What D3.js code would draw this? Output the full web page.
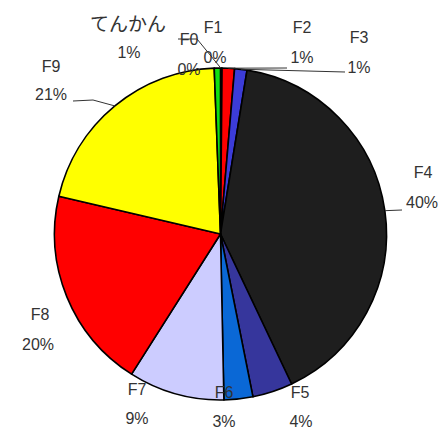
<!DOCTYPE html>
<html>
<head>
<meta charset="utf-8">
<script src="https://cdn.jsdelivr.net/npm/d3@7"></script>
<style>
  html, body { margin: 0; padding: 0; background: #fff; }
  svg { display: block; }
</style>
</head>
<body>
<svg id="chart" width="440" height="429"></svg>
<script>
// Share of cases by diagnosis group (percent)
const categories = ["F0", "F1", "F2", "F3", "F4", "F5", "F6", "F7", "F8", "F9", "てんかん"];
const values = [0.05, 0.1, 1.2, 1.2, 40.3, 3.9, 2.8, 9.3, 19.6, 20.7, 0.6];
const sliceColors = ["#202020", "#202020", "#ff0000", "#3c3cd8", "#1e1e1e", "#36369c", "#0a68d6", "#ccccff", "#ff0000", "#ffff00", "#12e012"];

// Label placement: centre of the name line / percent line, and leader bends
const labelLayout = {
  "F0":     { name: [189, 45],  pct: [189, 75],  leader: [[178, 39], [197, 39]] },
  "F1":     { name: [213, 33],  pct: [215, 63],  leader: null },
  "F2":     { name: [302, 33],  pct: [302, 63],  leader: [[287, 68]] },
  "F3":     { name: [359, 43],  pct: [359, 73],  leader: [[345, 72]] },
  "F4":     { name: [423, 178], pct: [422, 208], leader: [[402, 210]] },
  "F5":     { name: [300, 398], pct: [301, 427], leader: null },
  "F6":     { name: [224, 398], pct: [224, 427], leader: null },
  "F7":     { name: [137, 395], pct: [137, 424], leader: null },
  "F8":     { name: [40, 320],  pct: [38, 350],  leader: null },
  "F9":     { name: [51, 72],   pct: [51, 100],  leader: [[73, 101], [93, 100]] },
  "てんかん": { name: [128, 31],  pct: [129, 58],  leader: null, big: true }
};

const cx = 220.5, cy = 234, radius = 166;
const svg = d3.select("#chart");

const data = categories.map((c, i) => ({ name: c, value: values[i], color: sliceColors[i] }));
const total = d3.sum(values);

const pie = d3.pie().sort(null).value(d => d.value).startAngle(0).endAngle(2 * Math.PI);
const arc = d3.arc().innerRadius(0).outerRadius(radius);
const arcs = pie(data);

const g = svg.append("g").attr("transform", `translate(${cx},${cy})`);

g.selectAll("path.slice")
  .data(arcs)
  .join("path")
  .attr("class", "slice")
  .attr("d", arc)
  .attr("fill", d => d.data.color)
  .attr("stroke", "#000")
  .attr("stroke-width", 1.6)
  .attr("stroke-linejoin", "round");

// Leader lines from label to the slice's outer edge
const edgePoint = d => {
  const a = (d.startAngle + d.endAngle) / 2;
  return [cx + radius * Math.sin(a), cy - radius * Math.cos(a)];
};
const line = d3.line();
svg.selectAll("path.leader")
  .data(arcs.filter(d => labelLayout[d.data.name].leader))
  .join("path")
  .attr("class", "leader")
  .attr("d", d => line(labelLayout[d.data.name].leader.concat([edgePoint(d)])))
  .attr("fill", "none")
  .attr("stroke", "#333")
  .attr("stroke-width", 1);

const fmt = v => Math.round(v / total * 100) + "%";
const labels = svg.selectAll("g.lbl").data(arcs).join("g").attr("class", "lbl");

labels.append("text")
  .attr("x", d => labelLayout[d.data.name].name[0])
  .attr("y", d => labelLayout[d.data.name].name[1])
  .attr("text-anchor", "middle")
  .attr("fill", "#333")
  .style("font-family", d => labelLayout[d.data.name].big ? "'Noto Sans CJK JP', sans-serif" : "'Liberation Sans', Arial, sans-serif")
  .style("font-size", d => labelLayout[d.data.name].big ? "19px" : "16px")
  .text(d => d.data.name);

labels.append("text")
  .attr("x", d => labelLayout[d.data.name].pct[0])
  .attr("y", d => labelLayout[d.data.name].pct[1])
  .attr("text-anchor", "middle")
  .attr("fill", "#333")
  .style("font-family", "'Liberation Sans', Arial, sans-serif")
  .style("font-size", "16px")
  .text(d => fmt(d.value));
</script>
</body>
</html>
